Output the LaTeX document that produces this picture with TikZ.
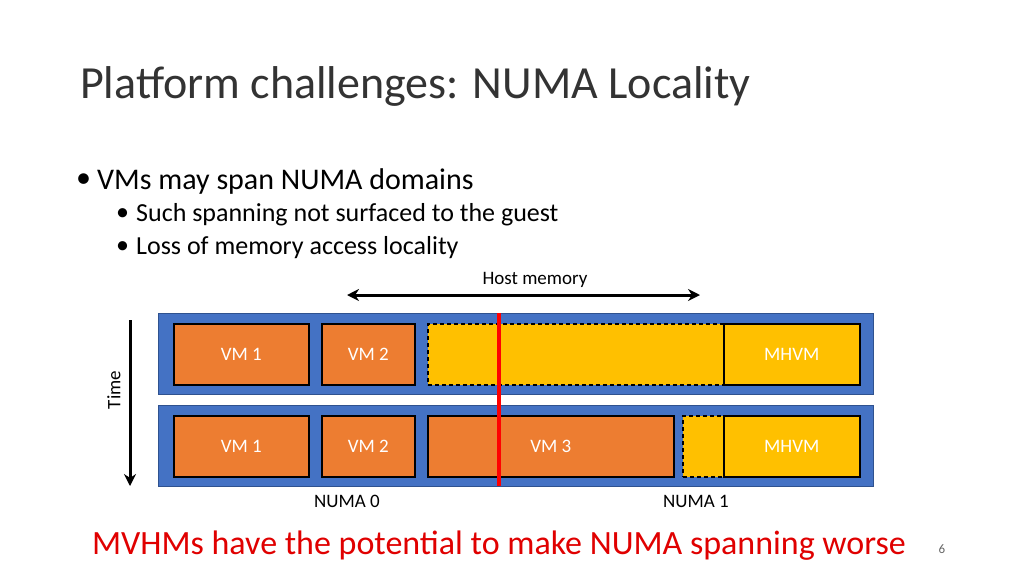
\documentclass[tikz,border=0pt]{standalone}
\usepackage{fontspec}
\setmainfont{Carlito}
\usetikzlibrary{arrows.meta}
\definecolor{bblue}{HTML}{4472C4}
\definecolor{bbord}{HTML}{2F528F}
\definecolor{vmor}{HTML}{ED7D31}
\definecolor{ylw}{HTML}{FFC000}
\definecolor{redt}{HTML}{E00000}
\begin{document}
\begin{tikzpicture}[x=1pt,y=-1pt,
  bar/.style={fill=bblue,draw=bbord,line width=1pt},
  vm/.style={fill=vmor,draw=black,line width=1.5pt,font=\fontsize{19}{22}\selectfont,text=white},
  mh/.style={fill=ylw,draw=black,line width=1.5pt,font=\fontsize{19}{22}\selectfont,text=white},
  dsh/.style={fill=ylw,draw=black,line width=1.5pt,dash pattern=on 4pt off 3pt},
  lbl/.style={font=\fontsize{19}{22}\selectfont,text=black}]
\useasboundingbox[fill=white] (0,0) rectangle (1024,576);
\node[anchor=west,font=\fontsize{46}{54}\selectfont,text=black!80,inner sep=0] (title) at (80,86) {Platform challenges: NUMA Locality};
\node[anchor=west,font=\fontsize{30}{36}\selectfont,inner sep=0] (b1d) at (76,181) {•};
\node[anchor=west,font=\fontsize{30}{36}\selectfont,inner sep=0] (b1) at (97,181) {VMs may span NUMA domains};
\node[anchor=west,font=\fontsize{26}{31}\selectfont,inner sep=0] (b2d) at (116,215) {•};
\node[anchor=west,font=\fontsize{26}{31}\selectfont,inner sep=0] (b2) at (136,215) {Such spanning not surfaced to the guest};
\node[anchor=west,font=\fontsize{26}{31}\selectfont,inner sep=0] (b3d) at (116,248) {•};
\node[anchor=west,font=\fontsize{26}{31}\selectfont,inner sep=0] (b3) at (136,248) {Loss of memory access locality};
\node[lbl] (hm) at (535,280) {Host memory};
\coordinate (al) at (347,295); \coordinate (ar) at (700,295);
\draw[{Stealth[length=12pt,width=12pt]}-{Stealth[length=12pt,width=12pt]},line width=3pt] (al) -- (ar);
\node[bar,minimum width=715pt,minimum height=81pt,anchor=north west,inner sep=0] (bar1) at (158,313) {};
\node[bar,minimum width=715pt,minimum height=81pt,anchor=north west,inner sep=0] (bar2) at (158,405) {};
% row 1
\node[vm,minimum width=135pt,minimum height=61pt,anchor=north west,inner sep=0] (a1) at (173,323) {VM 1};
\node[vm,minimum width=93pt,minimum height=61pt,anchor=north west,inner sep=0] (a2) at (321,323) {VM 2};
\node[dsh,minimum width=296pt,minimum height=61pt,anchor=north west,inner sep=0] (a3) at (427,323) {};
\node[mh,minimum width=136pt,minimum height=61pt,anchor=north west,inner sep=0] (a4) at (723,323) {MHVM};
% row 2
\node[vm,minimum width=135pt,minimum height=61pt,anchor=north west,inner sep=0] (c1) at (173,415) {VM 1};
\node[vm,minimum width=93pt,minimum height=61pt,anchor=north west,inner sep=0] (c2) at (321,415) {VM 2};
\node[vm,minimum width=246pt,minimum height=61pt,anchor=north west,inner sep=0] (c3) at (427,415) {VM 3};
\node[dsh,minimum width=41pt,minimum height=61pt,anchor=north west,inner sep=0] (c4) at (682,415) {};
\node[mh,minimum width=136pt,minimum height=61pt,anchor=north west,inner sep=0] (c5) at (723,415) {MHVM};
\coordinate (rt) at (499,313); \coordinate (rb) at (499,486);
\draw[red,line width=3.5pt] (rt) -- (rb);
\coordinate (tt) at (130,320); \coordinate (tb) at (130,486);
\draw[-{Stealth[length=12pt,width=12pt]},line width=3pt] (tt) -- (tb);
\node[lbl,rotate=90] (time) at (114,390) {Time};
\node[lbl] (n0) at (347,501) {NUMA 0};
\node[lbl] (n1) at (696,501) {NUMA 1};
\node[font=\fontsize{34}{40}\selectfont,text=redt] (msg) at (499,546) {MVHMs have the potential to make NUMA spanning worse};
\node[font=\fontsize{13}{15}\selectfont,text=black!60] (pg) at (942,549) {6};
\end{tikzpicture}
\end{document}
